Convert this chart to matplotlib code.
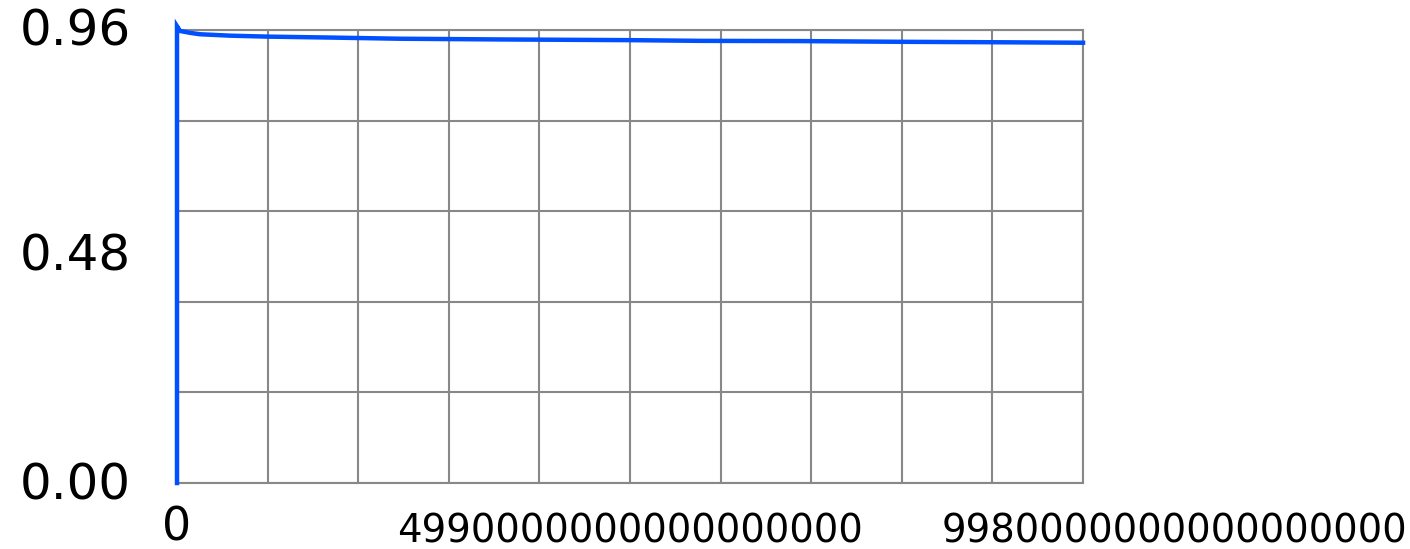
import matplotlib
matplotlib.use('Agg')
import matplotlib.pyplot as plt

# ─── data (x in units of 1e18) ─────────────────────────────
X_VALS = [0.0, 0.0, 0.033, 0.143, 0.253, 0.584, 0.991, 1.685, 2.456,
          3.558, 4.99, 5.761, 6.862, 7.964, 9.065, 9.98]
Y_VALS = [0.0, 0.968, 0.958, 0.954, 0.951, 0.948, 0.946, 0.944, 0.9415,
          0.940, 0.9385, 0.937, 0.9365, 0.935, 0.934, 0.933]

X_MAX = 9.98
Y_MAX = 0.96
Y_TICKS = [0.00, 0.48, 0.96]
Y_TICK_LABELS = ['0.00', '0.48', '0.96']
X_LABELS = ['0', '4990000000000000000', '9980000000000000000']

fig = plt.figure(figsize=(14.10, 5.49), dpi=100, facecolor='white')
ax = fig.add_axes([177 / 1410, 1 - 483 / 549, 906 / 1410, 453 / 549])

ax.plot(X_VALS, Y_VALS, color='#0050ff', lw=3.2, solid_joinstyle='miter',
        clip_on=False, zorder=5)

ax.set_xlim(0, X_MAX)
ax.set_ylim(0, Y_MAX)

# grid: 10 columns x 5 rows
ax.set_xticks([X_MAX * i / 10 for i in range(11)])
ax.set_yticks([Y_MAX * i / 5 for i in range(6)])
ax.grid(True, color='#888888', lw=1.5)
ax.tick_params(length=0, labelbottom=False, labelleft=False)
for s in ax.spines.values():
    s.set_color('#888888')
    s.set_linewidth(1.5)

# y labels
y_pos = [-0.0066, 0.5, 1.0 - 0.0044]
for yp, lab in zip(y_pos, Y_TICK_LABELS):
    ax.text(-0.051, yp, lab, transform=ax.transAxes, ha='right',
            va='center', fontsize=36, color='black')

# x labels
tr = ax.transAxes
ax.text(0.0, -0.1, X_LABELS[0], transform=tr, ha='center', va='center',
        fontsize=33, color='black')
ax.text(0.5, -0.106, X_LABELS[1], transform=tr, ha='center', va='center',
        fontsize=27.8, color='black')
ax.text((1175 - 177) / 906, -0.106, X_LABELS[2], transform=tr, ha='center',
        va='center', fontsize=27.8, color='black')

fig.savefig('out.png', dpi=100, facecolor='white')
